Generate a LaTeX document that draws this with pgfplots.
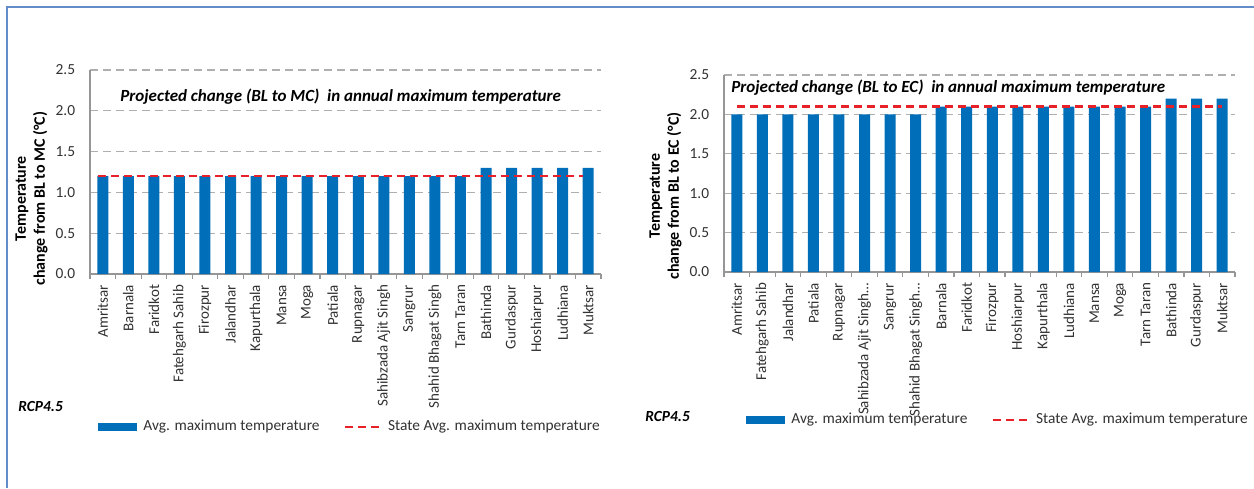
\documentclass[border=0pt]{standalone}
\usepackage{fontspec}
\setmainfont{Carlito}
\usepackage{pgfplots}
\pgfplotsset{compat=1.18}

\definecolor{barblue}{RGB}{0,110,184}
\definecolor{statered}{RGB}{232,32,40}
\definecolor{framebl}{RGB}{100,140,200}
\definecolor{axgray}{RGB}{150,150,150}
\definecolor{gridgray}{RGB}{175,175,175}
\definecolor{txt}{RGB}{50,50,50}

\pgfplotsset{
  tempchart/.style={
    scale only axis, width=255.5pt,
    xmin=-0.5, xmax=19.5, ymin=0, ymax=2.5,
    xtick={0,...,19},
    ytick={0,0.5,1,1.5,2,2.5},
    axis x line*=bottom, axis y line*=left,
    axis line style={axgray, line width=0.6pt, -},
    ymajorgrids,
    grid style={gridgray, dash pattern=on 4pt off 2.5pt, line width=0.6pt},
    major x tick style={draw=none},
    minor xtick={-0.5,0.5,...,19.5},
    minor tick length=2.5pt, tick align=outside,
    minor x tick style={axgray, line width=0.6pt},
    ytick style={draw=none},
    tick label style={text=txt},
    xticklabel style={font=\fontsize{7.5}{9}\selectfont, yshift=-1pt, rotate=90, anchor=east, inner sep=0pt},
    yticklabel style={font=\fontsize{7.7}{9}\selectfont, inner sep=0pt, xshift=-3pt},
    every axis y label/.style={at={(rel axis cs:0,0.37)}, xshift=-29.25pt,
      rotate=90, anchor=center, align=center,
      font=\fontsize{8}{9.5}\selectfont\bfseries},
    legend style={anchor=west, draw=none, fill=none, inner sep=0pt,
      legend columns=2, font=\fontsize{7.7}{9}\selectfont, text=txt,
      nodes={inner xsep=3pt, inner ysep=0pt, anchor=west},
      /tikz/every even column/.append style={column sep=9pt}},
    /pgf/number format/.cd, fixed, fixed zerofill, precision=1,
      assume math mode=true,
  },
  barleg/.style={legend image code/.code={\fill[barblue] (0pt,-2pt) rectangle (19.5pt,2pt);}},
  lineleg/.style={legend image code/.code={\draw[statered, line width=1.3pt, dash pattern=on 4pt off 2.5pt] (0pt,0pt) -- (18pt,0pt);}},
}

\begin{document}
\begin{tikzpicture}
\useasboundingbox (0pt,0pt) rectangle (627pt,244pt);
\draw[framebl, line width=1.1pt] (3.5pt,0pt) -- (3.5pt,240.5pt) -- (627pt,240.5pt);

% mid-century panel
\begin{axis}[tempchart, height=102pt, at={(45pt,107pt)}, anchor=south west,
  xticklabels={Amritsar,Barnala,Faridkot,Fatehgarh Sahib,Firozpur,Jalandhar,Kapurthala,Mansa,Moga,Patiala,Rupnagar,Sahibzada Ajit Singh,Sangrur,Shahid Bhagat Singh,Tarn Taran,Bathinda,Gurdaspur,Hoshiarpur,Ludhiana,Muktsar},
  ylabel={Temperature\\change from BL to MC (°C)},
  legend style={at={(rel axis cs:0.0157,-0.75)}},
]
\addplot[ybar, bar width=5.5pt, fill=barblue, draw=none, barleg] coordinates {
(0,1.2)(1,1.2)(2,1.2)(3,1.2)(4,1.2)(5,1.2)(6,1.2)(7,1.2)(8,1.2)(9,1.2)
(10,1.2)(11,1.2)(12,1.2)(13,1.2)(14,1.2)(15,1.3)(16,1.3)(17,1.3)(18,1.3)(19,1.3)};
\addlegendentry{Avg. maximum temperature}
\addplot[statered, line width=1.4pt, dash pattern=on 4pt off 2.5pt, lineleg] coordinates {
(-0.2,1.2)(0,1.2)(1,1.2)(2,1.2)(3,1.2)(4,1.2)(5,1.2)(6,1.2)(7,1.2)(8,1.2)(9,1.2)
(10,1.2)(11,1.2)(12,1.2)(13,1.2)(14,1.2)(15,1.2)(16,1.2)(17,1.2)(18,1.2)(18.8,1.2)};
\addlegendentry{State Avg. maximum temperature}
\node[anchor=west, inner sep=0pt, font=\fontsize{8.5}{10}\selectfont\bfseries\itshape] at (rel axis cs:0.0587,0.868)
  {Projected change (BL to MC)\ \ in annual maximum temperature};
\end{axis}

% end-century panel
\begin{axis}[tempchart, height=98.5pt, at={(362pt,108pt)}, anchor=south west,
  xticklabels={Amritsar,Fatehgarh Sahib,Jalandhar,Patiala,Rupnagar,{Sahibzada Ajit Singh\dots},Sangrur,{Shahid Bhagat Singh\dots},Barnala,Faridkot,Firozpur,Hoshiarpur,Kapurthala,Ludhiana,Mansa,Moga,Tarn Taran,Bathinda,Gurdaspur,Muktsar},
  ylabel={Temperature\\change from BL to EC (°C)},
  every axis y label/.append style={at={(rel axis cs:0,0.386)}},
  legend style={at={(rel axis cs:0.043,-0.751)}},
]
\addplot[ybar, bar width=5.5pt, fill=barblue, draw=none, barleg] coordinates {
(0,2.0)(1,2.0)(2,2.0)(3,2.0)(4,2.0)(5,2.0)(6,2.0)(7,2.0)(8,2.1)(9,2.1)
(10,2.1)(11,2.1)(12,2.1)(13,2.1)(14,2.1)(15,2.1)(16,2.1)(17,2.2)(18,2.2)(19,2.2)};
\addlegendentry{Avg. maximum temperature}
\addplot[statered, line width=1.4pt, dash pattern=on 4pt off 2.5pt, lineleg] coordinates {
(0,2.1)(1,2.1)(2,2.1)(3,2.1)(4,2.1)(5,2.1)(6,2.1)(7,2.1)(8,2.1)(9,2.1)
(10,2.1)(11,2.1)(12,2.1)(13,2.1)(14,2.1)(15,2.1)(16,2.1)(17,2.1)(18,2.1)(19,2.1)};
\addlegendentry{State Avg. maximum temperature}
\node[anchor=west, inner sep=0pt, font=\fontsize{8.5}{10}\selectfont\bfseries\itshape] at (rel axis cs:0.0137,0.934)
  {Projected change (BL to EC)\ \ in annual maximum temperature};
\end{axis}

\node[anchor=west, inner sep=0pt, font=\fontsize{7.7}{9}\selectfont\bfseries\itshape] at (9pt,40.5pt) {RCP4.5};
\node[anchor=west, inner sep=0pt, font=\fontsize{7.7}{9}\selectfont\bfseries\itshape] at (322.5pt,35.5pt) {RCP4.5};
\end{tikzpicture}
\end{document}
